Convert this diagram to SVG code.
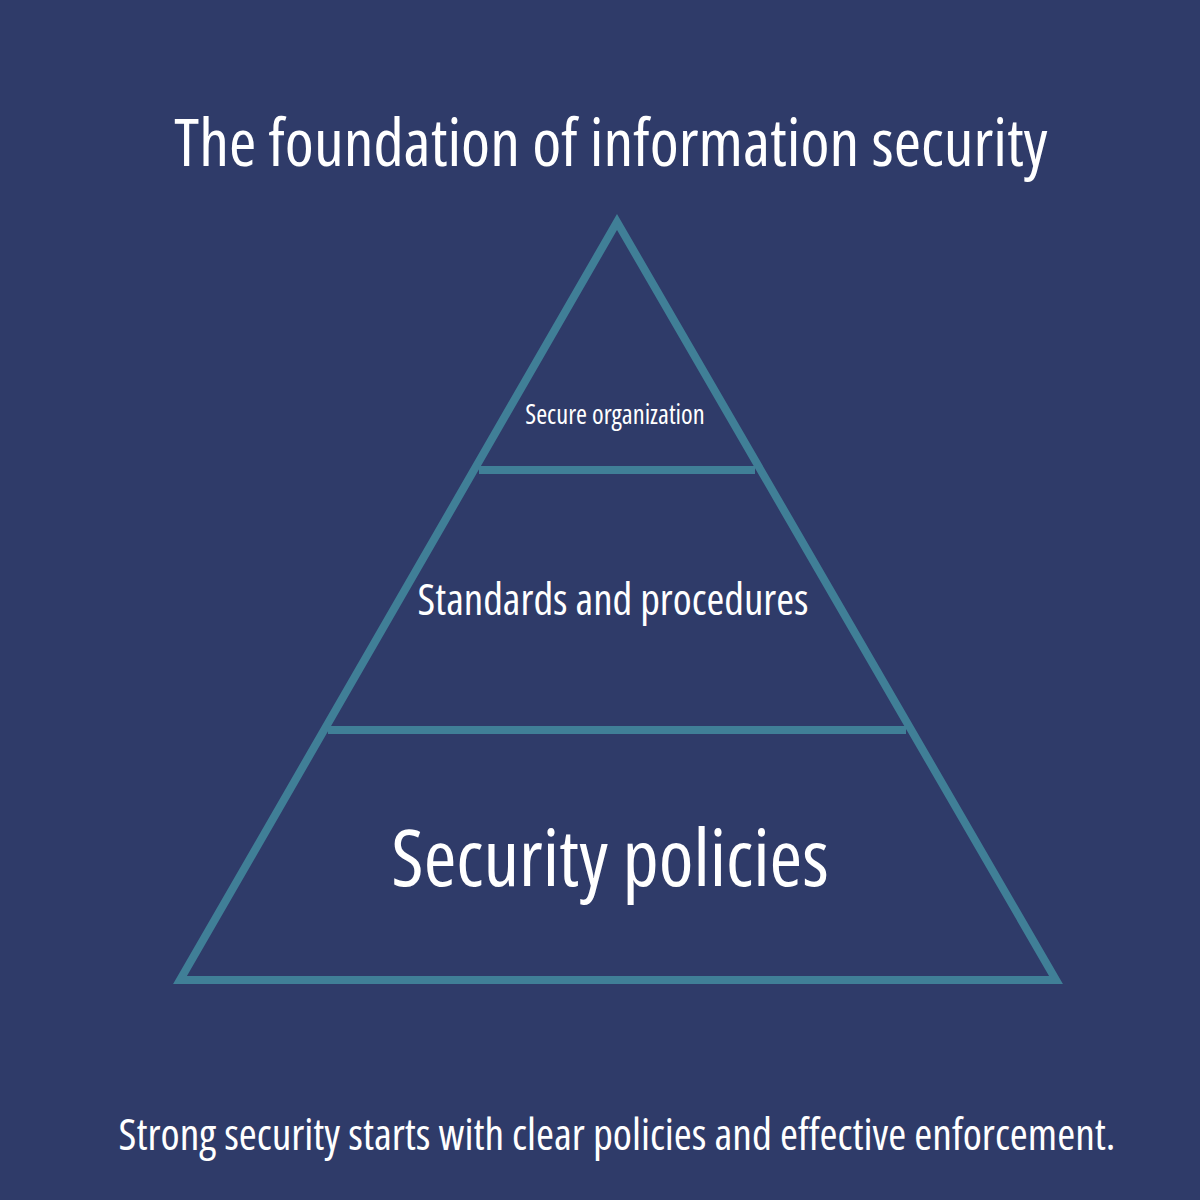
<svg xmlns="http://www.w3.org/2000/svg" width="1200" height="1200" viewBox="0 0 1200 1200">
<style>
text{font-family:"Open Sans","Liberation Sans",sans-serif;font-stretch:condensed;fill:#fff;text-anchor:middle}
.ln{stroke:#407f97;stroke-width:8;fill:none}
</style>
<rect width="1200" height="1200" fill="#2f3b69"/>
<text x="611" y="166" font-size="66">The foundation of information security</text>
<g id="connectors">
<polygon class="ln" points="617,222 1056,980 180,980"/>
</g>
<g id="top"><line class="ln" x1="479" y1="470" x2="755" y2="470"/><text x="615" y="424" font-size="26.5">Secure organization</text></g>
<g id="middle"><line class="ln" x1="328" y1="730" x2="906" y2="730"/><text x="613" y="615" font-size="43">Standards and procedures</text></g>
<g id="bottom"><text x="610" y="886" font-size="79">Security policies</text></g>
<text x="617" y="1150" font-size="43.5">Strong security starts with clear policies and effective enforcement.</text>
</svg>
